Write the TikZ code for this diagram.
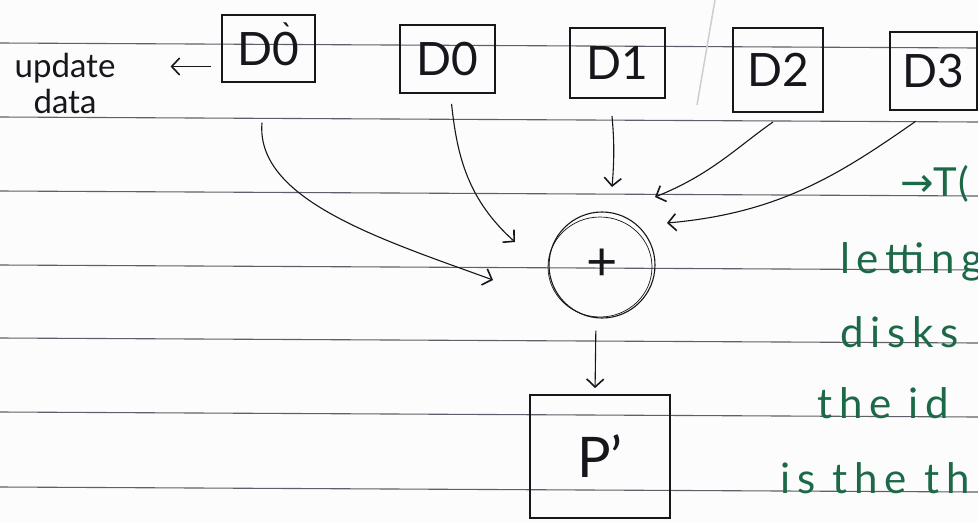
\documentclass[tikz,border=0pt]{standalone}
\usepackage{fontspec}
\setmainfont{Lato}
\newfontfamily\arrowfont{DejaVu Sans}
\usetikzlibrary{arrows.meta}
\definecolor{ink}{RGB}{22,22,28}
\definecolor{ruleline}{RGB}{95,95,105}
\definecolor{greenink}{RGB}{28,105,72}
\definecolor{pencil}{RGB}{205,205,210}
\definecolor{paper}{RGB}{252,252,252}
\tikzset{
  dbox/.style={draw=ink, line width=1.8pt, inner sep=0pt, text=ink, font=\fontsize{46}{50}\selectfont},
  sumnode/.style={circle, draw=ink, line width=1.1pt, minimum size=106pt, inner sep=0pt, text=ink, font=\fontsize{54}{58}\selectfont},
  arr/.style={draw=ink, line width=1.1pt, -{Straight Barb[length=8pt,width=17pt,line width=1.6pt]}},
  ruled/.style={draw=ruleline, line width=1.1pt},
  notetext/.style={text=greenink, anchor=base west, inner sep=0pt, font=\fontsize{42}{46}\selectfont\addfontfeatures{LetterSpace=16}},
  sidetext/.style={text=ink, align=center, inner sep=0pt, font=\fontsize{33}{36}\selectfont},
}
\begin{document}
\begin{tikzpicture}[x=1pt,y=-1pt]
\useasboundingbox (0,0) rectangle (978,523);
\clip (0,0) rectangle (978,523);
\fill[paper] (0,0) rectangle (978,523);
% ruled notebook lines
\foreach \yy in {43,117,191,265,338,412,487}
  \draw[ruled] (0,\yy) -- (978,\yy+5);
% faint pencil stroke
\draw[pencil, line width=1.5pt] (715,0) -- (697,105);

% disk boxes
\node[dbox, minimum width=93pt, minimum height=67pt] (b0) at (268.5,48.5)
  {D\ooalign{0\cr\hidewidth\raisebox{0.45em}{\fontsize{30}{30}\selectfont\textasciigrave}\kern-0.05em\hidewidth\cr}};
\node[dbox, minimum width=95pt, minimum height=68pt] (d0) at (447.5,59) {D0};
\node[dbox, minimum width=95pt, minimum height=70pt] (b1) at (617.5,63) {D1};
\node[dbox, minimum width=90pt, minimum height=84pt] (b2) at (778,70) {D2};
\node[dbox, minimum width=87pt, minimum height=78pt] (b3) at (933.5,71) {D3};

% xor / sum node
\node[sumnode] (sum) at (602,265) {+};
\draw[ink, line width=0.7pt] ([xshift=-2pt,yshift=-2pt]sum.center) ellipse [x radius=52pt, y radius=50pt];

% parity box
\node[dbox, minimum width=140pt, minimum height=123pt, font=\fontsize{56}{60}\selectfont] (p) at (600,456.5) {P'};

% update data label
\node[sidetext] (upd) at (65,83) {update\\data};
\coordinate (ua) at ([yshift=-18pt]b0.west);
\draw[arr, shorten <=10pt, shorten >=55pt] (ua) -- (upd.east |- ua);

% arrow tips near the sum node
\coordinate (t1) at (493,280);
\coordinate (t2) at (515,242);
\coordinate (t3) at (612,187);
\coordinate (t4) at (655,197);
\coordinate (t5) at (667,223);

\draw[arr, shorten <=40pt] ([xshift=-3pt]b0.south) to[out=-95, in=160] (t1);
\draw[arr, shorten <=10pt] ([xshift=3pt]d0.south) to[out=-84, in=138] (t2);
\draw[arr, shorten <=17pt] ([xshift=-7pt]b1.south) to[out=-85, in=85] (t3);
\draw[arr, shorten <=16pt] ([xshift=8pt]b2.south) to[out=-145, in=22] (t4);
\draw[arr, shorten <=18pt] ([xshift=-3pt]b3.south) to[out=-145, in=5] (t5);

% sum to parity
\draw[arr, shorten <=12pt, shorten >=6pt] ([xshift=-6pt]sum.south) -- ([xshift=-5pt]p.north);

% green notes at right edge
\node[notetext, font=\fontsize{40}{44}\selectfont\addfontfeatures{LetterSpace=4}] (g0) at (900,196) {{\arrowfont →}T(};
\node[notetext] (g1) at (840,273) {letting};
\node[notetext] (g2) at (840,347) {disks};
\node[notetext] (g3) at (817,418) {the id};
\node[notetext] (g4) at (780,493) {is the th};
\end{tikzpicture}
\end{document}
